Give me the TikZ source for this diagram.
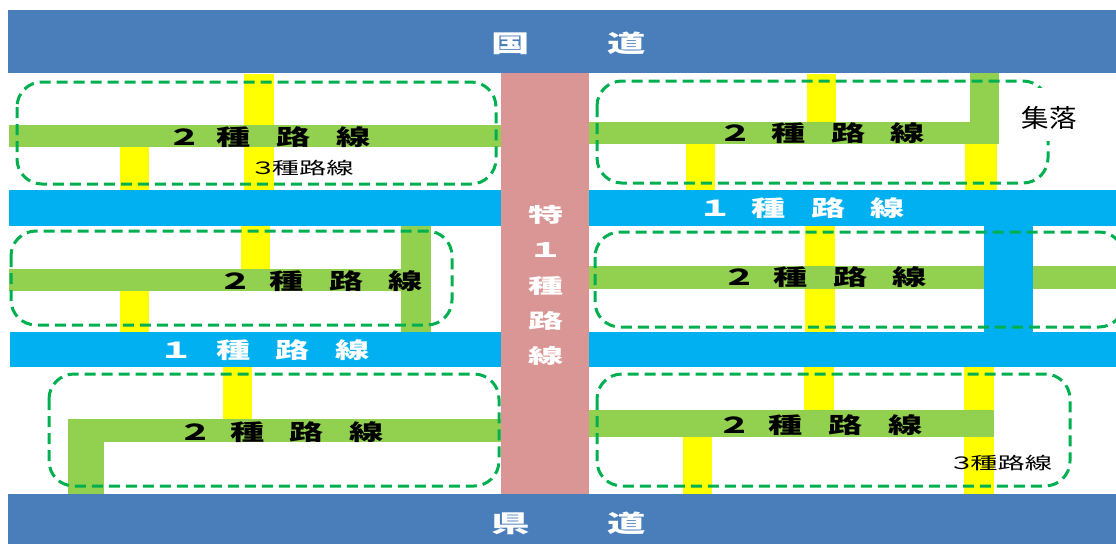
\documentclass[tikz,border=0pt]{standalone}
\usepackage{graphicx}
\usepackage{fontspec}
\newfontfamily\jp{Noto Sans CJK JP}
\definecolor{dband}{RGB}{74,126,187}
\definecolor{lband}{RGB}{0,176,240}
\definecolor{gbar}{RGB}{146,208,80}
\definecolor{roadyellow}{RGB}{255,255,0}
\definecolor{pbar}{RGB}{218,150,148}
\definecolor{dgreen}{RGB}{0,176,80}
\newcommand{\sx}[2]{\scalebox{#1}[1]{#2}}
\newcommand{\bigf}{\jp\bfseries\fontsize{22}{22}\selectfont}
\newcommand{\smallf}{\jp\fontsize{17}{17}\selectfont}
\newcommand{\nishu}[1]{\sx{1.55}{\bigf ２\hspace{#1}種\hspace{16.5pt}路\hspace{16.5pt}線}}
\newcommand{\isshu}[1]{\sx{1.55}{\bigf １\hspace{#1}種\hspace{16.5pt}路\hspace{16.5pt}線}}
\newcommand{\sanshu}{\smallf\sx{1.6}{３\hspace{-3pt}種路線}}
\newcommand{\pk}[1]{\sx{1.75}{#1}}
\tikzset{
  lbl/.style={inner sep=0pt, outer sep=0pt},
  zone/.style={draw=dgreen, line width=3pt, dash pattern=on 11pt off 6pt, rounded corners=25pt},
  yroad/.style={fill=roadyellow},
}
\begin{document}
\begin{tikzpicture}[x=1pt, y=-1pt]
\clip (0,0) rectangle (1116,544);
\fill[white] (0,0) rectangle (1116,544);
% national / prefectural roads
\fill[dband] (8,10) rectangle (1116,73);
\fill[dband] (8,494) rectangle (1116,544);
% class 1 roads
\fill[lband] (9,190) rectangle (1116,226);
\fill[lband] (10,332) rectangle (1116,367);
% yellow class 3 roads
\path[yroad] (244,74) rectangle (274,190);
\path[yroad] (120,147) rectangle (149,190);
\path[yroad] (807,74) rectangle (836,122);
\path[yroad] (686,144) rectangle (715,190);
\path[yroad] (965,144) rectangle (997,190);
\path[yroad] (241,226) rectangle (270,269);
\path[yroad] (120,291) rectangle (149,332);
\path[yroad] (805,226) rectangle (835,332);
\path[yroad] (223,367) rectangle (252,419);
\path[yroad] (804,367) rectangle (834,410);
\path[yroad] (964,367) rectangle (994,494);
\path[yroad] (683,437) rectangle (712,494);
% green class 2 roads
\fill[gbar] (9,125) rectangle (502,147);
\fill[gbar] (589,122) rectangle (999,144);
\fill[gbar] (970,73) rectangle (999,144);
\fill[gbar] (9,269) rectangle (431,291);
\fill[gbar] (401,226) rectangle (431,332);
\fill[gbar] (589,266) rectangle (1116,289);
\fill[gbar] (68,419) rectangle (502,442);
\fill[gbar] (68,419) rectangle (104,494);
\fill[gbar] (589,410) rectangle (994,437);
% blue vertical
\fill[lband] (984,226) rectangle (1033,332);
% special class 1 road
\fill[pbar] (501,73) rectangle (589,494);
% settlement zones
\draw[zone] (17,82) rectangle (496,184);
\draw[zone] (597,81) rectangle (1048,183);
\draw[zone] (11,231) rectangle (452,325);
\draw[zone] (595,232) rectangle (1124,327);
\draw[zone] (49,374) rectangle (499,486);
\draw[zone] (597,374) rectangle (1070,486);
\fill[white] (1016,88) rectangle (1082,141);
% labels
\node[lbl, text=white] (kokudo) at (569,43) {\sx{1.6}{\jp\bfseries\fontsize{24}{24}\selectfont 国\hspace{48.5pt}道}};
\node[lbl, text=white] (kendo) at (569,523) {\sx{1.6}{\jp\bfseries\fontsize{24}{24}\selectfont 県\hspace{48.5pt}道}};
\node[lbl] (n1) at (269,137) {\nishu{9.5pt}};
\node[lbl] (n2) at (822,133) {\nishu{12pt}};
\node[lbl] (n3) at (320.5,281) {\nishu{11pt}};
\node[lbl] (n4) at (824.5,277) {\nishu{11pt}};
\node[lbl] (n5) at (281,432) {\nishu{11.5pt}};
\node[lbl] (n6) at (820,425) {\nishu{11pt}};
\node[lbl, text=white] (i1) at (801.5,208) {\isshu{12.3pt}};
\node[lbl, text=white] (i2) at (264.5,350) {\isshu{14.8pt}};
\node[lbl] (s1) at (301.5,168) {\sanshu};
\node[lbl] (s2) at (1000,463) {\sanshu};
\node[lbl] (shuraku) at (1049,118) {\jp\fontsize{25}{25}\selectfont\sx{1.1}{集落}};
\node[lbl, text=white, align=center, font=\jp\bfseries\fontsize{20}{35.2}\selectfont] (toku) at (546,285.5) {\pk{特}\\\pk{１}\\\pk{種}\\\pk{路}\\\pk{線}};
\end{tikzpicture}
\end{document}
